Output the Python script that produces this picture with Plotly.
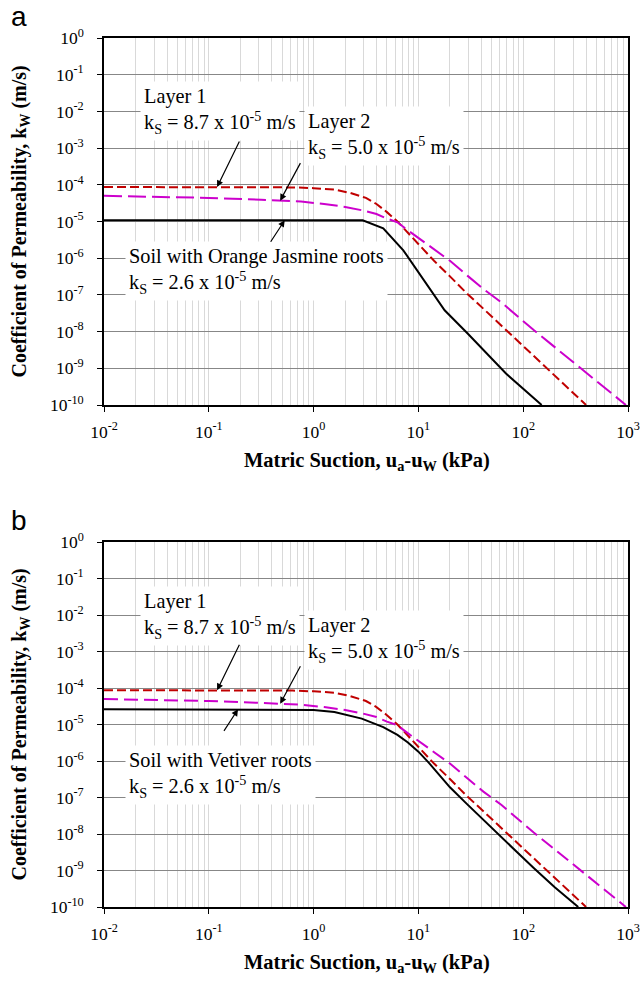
import numpy as np
import plotly.graph_objects as go

# Unsaturated permeability functions: matric suction (kPa) vs k_w (m/s)
layer1_suction = [0.01, 0.1, 0.316, 0.631, 1.0, 1.58, 2.24, 3.16, 3.98, 5.01, 6.31, 7.94,
                  10.0, 14.1, 20.0, 28.8, 41.7, 60.3, 87.1, 126, 200, 282, 398]
layer1_k = [8.7e-5, 8.7e-5, 8.7e-5, 8.5e-5, 8.1e-5, 7.4e-5, 6.0e-5, 4.4e-5, 3.0e-5, 1.8e-5,
            1.0e-5, 5.0e-6, 2.5e-6, 8.5e-7, 3.2e-7, 1.12e-7, 4.2e-8, 1.55e-8, 5.8e-9, 2.1e-9,
            6.2e-10, 2.5e-10, 1.0e-10]

layer2_suction = [0.01, 0.0316, 0.1, 0.316, 0.759, 1.26, 2.0, 2.95, 3.98, 5.01, 6.31, 8.32,
                  11.2, 14.1, 20.0, 29.5, 41.7, 61.7, 87.1, 126, 182, 269, 398, 631, 955]
layer2_k = [5.0e-5, 4.8e-5, 4.4e-5, 3.9e-5, 3.5e-5, 3.0e-5, 2.5e-5, 2.0e-5, 1.6e-5, 1.2e-5,
            9.5e-6, 5.2e-6, 2.8e-6, 1.7e-6, 8.5e-7, 3.3e-7, 1.45e-7, 6.3e-8, 2.7e-8, 1.1e-8,
            4.7e-9, 1.9e-9, 7.6e-10, 2.6e-10, 1.0e-10]

jasmine_suction = [0.01, 2.94, 4.62, 7.18, 17.8, 29.5, 68.5, 150]
jasmine_k = [1.08e-5, 1.08e-5, 6.5e-6, 1.64e-6, 3.8e-8, 8.9e-9, 7.2e-10, 1.0e-10]

vetiver_suction = [0.01, 0.631, 1.0, 1.58, 2.88, 4.62, 6.31, 7.94, 10.0, 12.6, 20.0, 28.8,
                   41.7, 60.3, 87.1, 126, 200, 335]
vetiver_k = [2.6e-5, 2.6e-5, 2.5e-5, 2.2e-5, 1.45e-5, 8.5e-6, 5.2e-6, 3.2e-6, 1.8e-6, 8.9e-7,
             1.9e-7, 6.8e-8, 2.4e-8, 8.7e-9, 3.2e-9, 1.17e-9, 3.5e-10, 1.0e-10]

x_tick_vals = [1e-2, 1e-1, 1e0, 1e1, 1e2, 1e3]
x_tick_text = ["10<sup>-2</sup>", "10<sup>-1</sup>", "10<sup>0</sup>",
               "10<sup>1</sup>", "10<sup>2</sup>", "10<sup>3</sup>"]
y_tick_vals = [10.0 ** -e for e in range(0, 11)]
y_tick_text = ["10<sup>0</sup>"] + ["10<sup>-%d</sup>" % e for e in range(1, 11)]
x_minor_vals = [m * 10.0 ** p for p in range(-2, 3) for m in range(2, 10)]

W, H = 640, 982
SERIF = "Liberation Serif, Times New Roman, serif"
RED, MAGENTA, BLACK = "#C00000", "#CC00CC", "#000000"


def px_x(v):
    return v / W


def px_y(v):
    return 1 - v / H


# plot-area pixel boxes: (left, right, top, bottom)
panels = {
    "a": dict(box=(104, 628, 38, 405), root="Orange Jasmine", root_s=jasmine_suction,
              root_k=jasmine_k, mag_dash="18px,6px"),
    "b": dict(box=(104, 628, 542, 907), root="Vetiver", root_s=vetiver_suction,
              root_k=vetiver_k, mag_dash="14px,6px"),
}

fig = go.Figure()
annotations = []
layout_axes = {}


def interp_log(xv, xs, ys):
    return float(np.interp(np.log10(xv), np.log10(xs), np.log10(ys)))


for i, (tag, p) in enumerate(panels.items(), start=1):
    xa = "x" if i == 1 else "x%d" % i
    ya = "y" if i == 1 else "y%d" % i
    left, right, top, bottom = p["box"]

    fig.add_trace(go.Scatter(x=layer1_suction, y=layer1_k, mode="lines", xaxis=xa, yaxis=ya,
                             line=dict(color=RED, width=2, dash="9px,4px"),
                             name="Layer 1", showlegend=False))
    fig.add_trace(go.Scatter(x=layer2_suction, y=layer2_k, mode="lines", xaxis=xa, yaxis=ya,
                             line=dict(color=MAGENTA, width=2, dash=p["mag_dash"]),
                             name="Layer 2", showlegend=False))
    fig.add_trace(go.Scatter(x=p["root_s"], y=p["root_k"], mode="lines", xaxis=xa, yaxis=ya,
                             line=dict(color=BLACK, width=2),
                             name="Soil with %s roots" % p["root"], showlegend=False))

    xkey = "xaxis" if i == 1 else "xaxis%d" % i
    ykey = "yaxis" if i == 1 else "yaxis%d" % i
    layout_axes[xkey] = dict(
        type="log", range=[-2, 3], domain=[px_x(left), px_x(right)], anchor=ya,
        automargin=False,
        tickvals=x_tick_vals, ticktext=x_tick_text, ticks="outside", ticklen=5,
        tickcolor="black", tickwidth=1, showline=True, mirror=True, linecolor="black",
        linewidth=1.5, showgrid=True, gridcolor="#d9d9d9", gridwidth=1, zeroline=False,
        tickfont=dict(family=SERIF, size=17.5, color="black"), ticklabelstandoff=5,
        minor=dict(tickvals=x_minor_vals, showgrid=True, gridcolor="#d9d9d9",
                   gridwidth=1, ticks=""),
    )
    layout_axes[ykey] = dict(
        type="log", range=[-10, 0], domain=[px_y(bottom), px_y(top)], anchor=xa,
        automargin=False,
        tickvals=y_tick_vals, ticktext=y_tick_text, ticks="outside", ticklen=5,
        tickcolor="black", tickwidth=1, showline=True, mirror=True, linecolor="black",
        linewidth=1.5, showgrid=True, gridcolor="#878787", gridwidth=1, zeroline=False,
        tickfont=dict(family=SERIF, size=17.5, color="black"), ticklabelstandoff=10,
    )

    off = top - 38  # vertical offset of this panel
    tf = dict(family=SERIF, size=20.3, color="black")
    boxes = [
        (140, 111.5, "Layer 1<br>k<sub>S</sub> = 8.7 x 10<sup>-5</sup> m/s"),
        (304, 136, "Layer 2<br>k<sub>S</sub> = 5.0 x 10<sup>-5</sup> m/s"),
        (125, 271, "Soil with %s roots<br>k<sub>S</sub> = 2.6 x 10<sup>-5</sup> m/s" % p["root"]),
    ]
    for bx, by, txt in boxes:
        annotations.append(dict(xref="paper", yref="paper", x=px_x(bx), y=px_y(by + off),
                                xanchor="left", yanchor="middle", align="left", text=txt,
                                showarrow=False, bgcolor="white", borderpad=3, font=tf))

    # arrows: tip on the curve at a given suction, tail offset in pixels
    arrows = [
        (0.12, layer1_suction, layer1_k, 23, -47),
        (0.48, layer2_suction, layer2_k, 21, -39),
        (0.53 if tag == "a" else 0.19, p["root_s"], p["root_k"], -15, 23),
    ]
    for sx, xs, ys, dx, dy in arrows:
        annotations.append(dict(xref=xa, yref=ya, x=np.log10(sx), y=interp_log(sx, xs, ys),
                                ax=dx, ay=dy, text="", showarrow=True, arrowhead=2,
                                arrowsize=1.1, arrowwidth=1.2, arrowcolor="black",
                                standoff=0))

    # axis titles and panel letter
    annotations.append(dict(xref="paper", yref="paper", x=px_x(367), y=px_y(bottom + 56),
                            xanchor="center", yanchor="middle", showarrow=False,
                            text="<b>Matric Suction, u<sub>a</sub>-u<sub>W</sub> (kPa)</b>",
                            font=dict(family=SERIF, size=20.5, color="black")))
    annotations.append(dict(xref="paper", yref="paper", x=px_x(20), y=px_y((top + bottom) / 2),
                            xanchor="center", yanchor="middle", showarrow=False, textangle=-90,
                            text="<b>Coefficient of Permeability, k<sub>W</sub> (m/s)</b>",
                            font=dict(family=SERIF, size=20, color="black")))
    annotations.append(dict(xref="paper", yref="paper", x=px_x(9), y=px_y(top - 22),
                            xanchor="left", yanchor="middle", showarrow=False, text=tag,
                            font=dict(family="Liberation Sans, Arial, sans-serif", size=28,
                                      color="black")))

fig.update_layout(
    width=W, height=H, margin=dict(l=0, r=0, t=0, b=0, autoexpand=False),
    paper_bgcolor="white", plot_bgcolor="white", showlegend=False,
    annotations=annotations, **layout_axes,
)

# page without default body margin so the 640x982 figure fills the window exactly
fig.write_html("out.html",
               post_script="document.body.style.margin='0';"
                           "document.documentElement.style.overflow='hidden';")
